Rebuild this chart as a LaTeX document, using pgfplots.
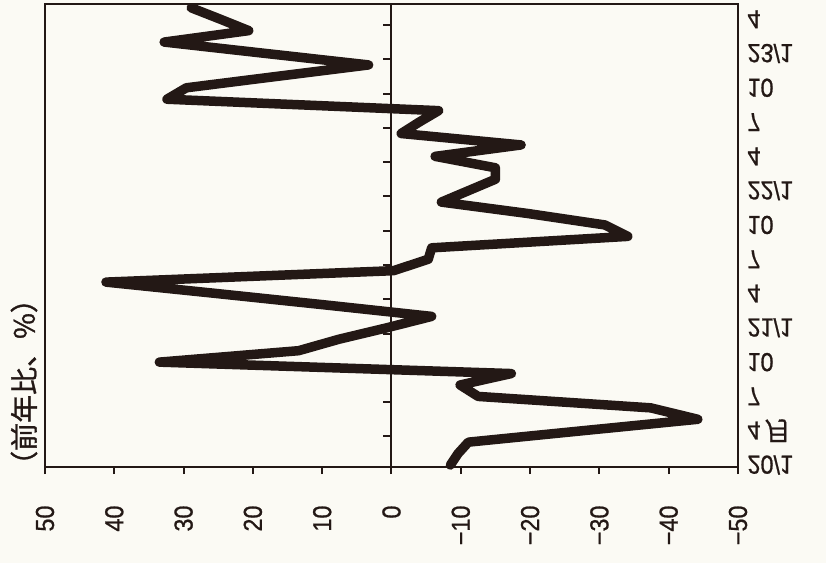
\documentclass[border=0pt]{standalone}
\usepackage{fontspec}
\setmainfont{Liberation Sans}
\newfontfamily\numfont{Liberation Sans}[FakeStretch=0.9, FakeBold=0.8]
\newfontfamily\cjk{Noto Sans CJK JP}[FakeBold=1.2]
\usepackage{pgfplots}
\pgfplotsset{compat=1.18}
\definecolor{ink}{HTML}{231815}
\definecolor{paper}{HTML}{FBFAF4}

% year-on-year change, monthly 2020/1 - 2023/5 (m = 0 is 20/1)
\pgfplotstableread{
m  v
0  -8.5
1  -9.6
2  -11.1
3  -27.6
4  -44.2
5  -37.4
6  -12.5
7  -9.9
8  -17.3
9  33.5
10 13.4
11 7.6
12 0.7
13 -5.8
14 9.5
15 25.2
16 41.2
17 -0.3
18 -5.3
19 -5.8
20 -34.1
21 -30.8
22 -19.7
23 -7.2
24 -11.1
25 -15.0
26 -15.0
27 -6.3
28 -18.7
29 -1.4
30 -4.0
31 -6.8
32 32.4
33 29.6
34 16.5
35 3.3
36 18.1
37 32.8
38 20.6
39 24.7
40 28.9
}\yoy

\begin{document}
\begin{tikzpicture}
\fill[paper] (0,0) rectangle (826pt,563pt);
\useasboundingbox (0,0) rectangle (826pt,563pt);
\begin{axis}[
  at={(45pt,96pt)}, anchor=south west,
  scale only axis, width=693pt, height=463pt,
  x dir=reverse, xmin=-50, xmax=50,
  ymin=-0.175, ymax=40.33,
  xtick={-50,-40,...,50},
  xticklabels={−50,−40,−30,−20,−10,0,10,20,30,40,50},
  xtick pos=bottom, xtick align=outside, major tick length=7pt,
  xticklabel style={rotate=90, anchor=east, text=ink,
    font=\numfont\fontsize{26}{26}\selectfont},
  xticklabel shift=28pt,
  ytick={0,3,...,39},
  yticklabels={20/1,4\,{\cjk 月},7,10,21/1,4,7,10,22/1,4,7,10,23/1,4},
  ytick pos=right, y tick style={draw=none},
  yticklabel style={yscale=-1, anchor=west, text=ink,
    font=\numfont\fontsize{26}{26}\selectfont},
  yticklabel shift=6pt,
  axis line style={ink, line width=2pt},
  tick style={ink, line width=2pt},
  clip=false,
]
\draw[ink, line width=2pt] (axis cs:0,-0.175) -- (axis cs:0,40.33);
\pgfplotsinvokeforeach{2.5,5.5,8.5,11.5,14.5,17.5,20.5,23.5,26.5,29.5,32.5,35.5,38.5}{
  \draw[ink, line width=2pt] (axis cs:0,#1) -- (axis cs:1.2,#1);
}
\addplot[ink, line width=9.5pt, line join=round, line cap=round, mark=none]
  table[x=v, y=m] {\yoy};
\end{axis}
\node[rotate=90, text=ink, font=\cjk\fontsize{28}{28}\selectfont]
  at (24pt,181pt) {（前年比、\%）};
\end{tikzpicture}
\end{document}
